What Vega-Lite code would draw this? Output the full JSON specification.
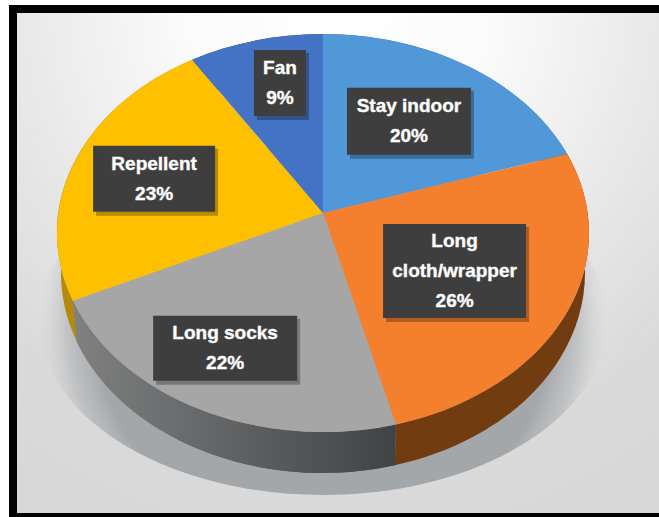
{
  "$schema": "https://vega.github.io/schema/vega-lite/v6.json",
  "width": 659,
  "height": 517,
  "padding": 0,
  "autosize": "none",
  "background": "#ffffff",
  "config": {"view": {"stroke": null}},
  "data": {"values": [
    {"option": "Stay indoor", "share": 20},
    {"option": "Long cloth/wrapper", "share": 26},
    {"option": "Long socks", "share": 22},
    {"option": "Repellent", "share": 23},
    {"option": "Fan", "share": 9}
  ]},
  "transform": [
    {"stack": "share", "groupby": [], "offset": "zero", "as": ["s0", "s1"]},
    {"calculate": "datum.s0 * PI / 50", "as": "t0"},
    {"calculate": "datum.s1 * PI / 50", "as": "t1"},
    {"calculate": "(datum.t0 + datum.t1) / 2", "as": "tm"},
    {"calculate": "sin(datum.t0) * 0.995 / (1 + 0.1 * cos(datum.t0))", "as": "u0"},
    {"calculate": "sin(datum.t1) * 0.995 / (1 + 0.1 * cos(datum.t1))", "as": "u1"},
    {"calculate": "sin(datum.tm) * 0.995 / (1 + 0.1 * cos(datum.tm))", "as": "um"},
    {"calculate": "(-cos(datum.t0) - 0.1) / (1 + 0.1 * cos(datum.t0))", "as": "v0"},
    {"calculate": "(-cos(datum.t1) - 0.1) / (1 + 0.1 * cos(datum.t1))", "as": "v1"},
    {"calculate": "(-cos(datum.tm) - 0.1) / (1 + 0.1 * cos(datum.tm))", "as": "vm"},
    {"calculate": "round(26600 * datum.u0) / 100 + ',' + round(2000 + 19900 * datum.v0) / 100", "as": "top0"},
    {"calculate": "round(26600 * datum.u1) / 100 + ',' + round(2000 + 19900 * datum.v1) / 100", "as": "top1"},
    {"calculate": "round(26200 * datum.u0) / 100 + ',' + round(6000 + 20000 * datum.v0) / 100", "as": "low0"},
    {"calculate": "round(26200 * datum.u1) / 100 + ',' + round(6000 + 20000 * datum.v1) / 100", "as": "low1"},
    {"calculate": "'M0,0L' + datum.top0 + 'A266,199 0 0 1 ' + datum.top1 + 'Z'", "as": "facePath"},
    {"calculate": "'M' + datum.top0 + 'A266,199 0 0 1 ' + datum.top1 + 'L' + datum.low1 + 'A262,200 0 0 0 ' + datum.low0 + 'Z'", "as": "wallPath"},
    {"calculate": "323 + 266 * datum.um * {'Stay indoor': 0.597, 'Long cloth/wrapper': 0.54, 'Long socks': 0.79, 'Repellent': 0.683, 'Fan': 0.639}[datum.option]", "as": "labelX"},
    {"calculate": "213 + (20 + 199 * datum.vm) * {'Stay indoor': 0.622, 'Long cloth/wrapper': 0.581, 'Long socks': 0.69, 'Repellent': 0.644, 'Fan': 0.754}[datum.option]", "as": "labelY"},
    {"calculate": "{'Stay indoor': 62, 'Long cloth/wrapper': 71.5, 'Long socks': 72, 'Repellent': 61, 'Fan': 26}[datum.option]", "as": "halfW"},
    {"calculate": "{'Stay indoor': 33.5, 'Long cloth/wrapper': 47, 'Long socks': 32.5, 'Repellent': 33, 'Fan': 33}[datum.option]", "as": "halfH"},
    {"calculate": "datum.labelX - datum.halfW", "as": "boxLeft"},
    {"calculate": "datum.labelX + datum.halfW", "as": "boxRight"},
    {"calculate": "datum.labelY - datum.halfH", "as": "boxTop"},
    {"calculate": "datum.labelY + datum.halfH", "as": "boxBottom"},
    {"calculate": "datum.boxLeft + 3", "as": "shadeLeft"},
    {"calculate": "datum.boxRight + 3", "as": "shadeRight"},
    {"calculate": "datum.boxTop + 3", "as": "shadeTop"},
    {"calculate": "datum.boxBottom + 4", "as": "shadeBottom"},
    {"calculate": "replace(datum.option, 'Long cloth', 'Long\\ncloth') + '\\n' + datum.share + '%'", "as": "labelText"},
    {"calculate": "datum.labelY - 15 * (length(split(datum.labelText, '\\n')) - 1)", "as": "firstLineY"}
  ],
  "layer": [
    {
      "data": {"values": [{}]},
      "mark": {"type": "rect", "fill": "#000000"},
      "encoding": {
        "x": {"datum": 9, "type": "quantitative", "axis": null, "scale": {"domain": [0, 659], "nice": false, "zero": false}},
        "x2": {"datum": 659},
        "y": {"datum": 5, "type": "quantitative", "axis": null, "scale": {"domain": [0, 517], "nice": false, "zero": false, "reverse": true}},
        "y2": {"datum": 517}
      }
    },
    {
      "data": {"values": [{}]},
      "mark": {
        "type": "rect",
        "fill": {
          "gradient": "radial",
          "x1": 0.5, "y1": 0.1, "r1": 0,
          "x2": 0.5, "y2": 0.1, "r2": 1,
          "stops": [
            {"offset": 0, "color": "#ffffff"},
            {"offset": 0.25, "color": "#fafafa"},
            {"offset": 0.5, "color": "#e8e8e8"},
            {"offset": 0.72, "color": "#dadada"},
            {"offset": 1, "color": "#d6d6d6"}
          ]
        }
      },
      "encoding": {
        "x": {"datum": 17, "type": "quantitative"},
        "x2": {"datum": 659},
        "y": {"datum": 13, "type": "quantitative"},
        "y2": {"datum": 513}
      }
    },
    {
      "data": {"values": [{}]},
      "mark": {
        "type": "point",
        "filled": true,
        "opacity": 1,
        "size": 4,
        "strokeWidth": 0,
        "shape": "M-284,0A284,175 0 1 1 284,0A284,175 0 1 1 -284,0Z",
        "fill": {
          "gradient": "radial",
          "x1": 0.5, "y1": 0.5, "r1": 0,
          "x2": 0.5, "y2": 0.5, "r2": 0.5,
          "stops": [
            {"offset": 0, "color": "#a4a7aa"},
            {"offset": 0.8, "color": "#a4a7aa"},
            {"offset": 0.9, "color": "rgba(170,172,175,0.55)"},
            {"offset": 1, "color": "rgba(205,205,205,0)"}
          ]
        }
      },
      "encoding": {
        "x": {"datum": 323, "type": "quantitative"},
        "y": {"datum": 320, "type": "quantitative"}
      }
    },
    {
      "mark": {"type": "point", "filled": true, "opacity": 1, "size": 4, "strokeWidth": 0},
      "encoding": {
        "x": {"datum": 323, "type": "quantitative"},
        "y": {"datum": 213, "type": "quantitative"},
        "shape": {"field": "wallPath", "type": "nominal", "scale": null, "legend": null},
        "color": {
          "field": "option",
          "type": "nominal",
          "legend": null,
          "scale": {
            "domain": ["Stay indoor", "Long cloth/wrapper", "Long socks", "Repellent", "Fan"],
            "range": ["#2f5f8c", "#703c10", "#5a5c5e", "#b58a08", "#2c4a80"]
          }
        }
      }
    },
    {
      "transform": [{"filter": "datum.option === 'Long socks'"}],
      "mark": {
        "type": "point",
        "filled": true,
        "opacity": 1,
        "size": 4,
        "strokeWidth": 0,
        "fill": {
          "gradient": "linear",
          "x1": 0, "y1": 0, "x2": 1, "y2": 0,
          "stops": [
            {"offset": 0, "color": "#808080"},
            {"offset": 1, "color": "#404346"}
          ]
        }
      },
      "encoding": {
        "x": {"datum": 323, "type": "quantitative"},
        "y": {"datum": 213, "type": "quantitative"},
        "shape": {"field": "wallPath", "type": "nominal", "scale": null, "legend": null}
      }
    },
    {
      "mark": {"type": "point", "filled": true, "opacity": 1, "size": 4, "strokeWidth": 0},
      "encoding": {
        "x": {"datum": 323, "type": "quantitative"},
        "y": {"datum": 213, "type": "quantitative"},
        "shape": {"field": "facePath", "type": "nominal", "scale": null, "legend": null},
        "color": {
          "field": "option",
          "type": "nominal",
          "legend": null,
          "scale": {
            "domain": ["Stay indoor", "Long cloth/wrapper", "Long socks", "Repellent", "Fan"],
            "range": ["#5198d8", "#f47f2c", "#a6a6a6", "#ffc000", "#4472c4"]
          }
        }
      }
    },
    {
      "mark": {"type": "rect", "fill": "#000000", "opacity": 0.28},
      "encoding": {
        "x": {"field": "shadeLeft", "type": "quantitative"},
        "x2": {"field": "shadeRight"},
        "y": {"field": "shadeTop", "type": "quantitative"},
        "y2": {"field": "shadeBottom"}
      }
    },
    {
      "mark": {"type": "rect", "fill": "#3f3e3e"},
      "encoding": {
        "x": {"field": "boxLeft", "type": "quantitative"},
        "x2": {"field": "boxRight"},
        "y": {"field": "boxTop", "type": "quantitative"},
        "y2": {"field": "boxBottom"}
      }
    },
    {
      "mark": {
        "type": "text",
        "font": "Liberation Sans",
        "fontSize": 19,
        "fontWeight": "bold",
        "fill": "#ffffff",
        "stroke": "#ffffff",
        "strokeWidth": 0.35,
        "align": "center",
        "baseline": "middle",
        "lineBreak": "\n",
        "lineHeight": 30
      },
      "encoding": {
        "x": {"field": "labelX", "type": "quantitative"},
        "y": {"field": "firstLineY", "type": "quantitative"},
        "text": {"field": "labelText"}
      }
    }
  ],
  "resolve": {"scale": {"color": "independent"}}
}
